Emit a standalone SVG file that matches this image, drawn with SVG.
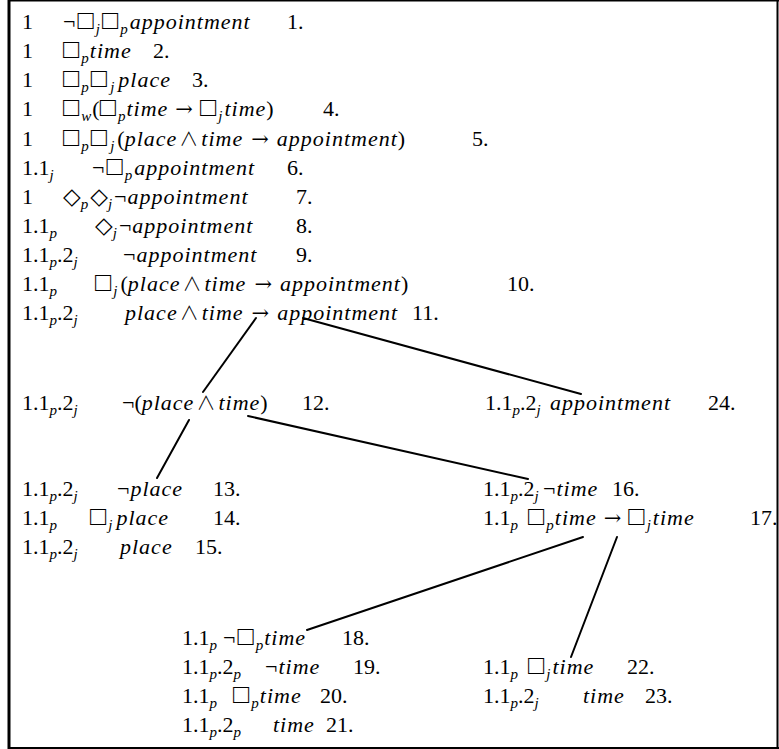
<svg xmlns="http://www.w3.org/2000/svg" width="779" height="749" viewBox="0 0 779 749">
  <style>
    .t { font-family: "Liberation Serif", "DejaVu Serif", serif; font-size: 22px; fill: #000; }
    .i { font-style: italic; letter-spacing: 1px; }
    .s { font-size: 15px; font-style: italic; letter-spacing: 0; baseline-shift: -5px; }
    .b { font-size: 27px; }
    .d { font-family: "DejaVu Sans", sans-serif; font-size: 23px; }
    .w { font-family: "Noto Sans CJK JP", "DejaVu Sans", sans-serif; font-size: 19px; font-weight: 300; }
    .a { font-family: "DejaVu Serif", serif; font-size: 21px; }
    .frame { stroke: #000; fill: none; }
    .edge { stroke: #000; stroke-width: 2; fill: none; stroke-linecap: round; }
  </style>

  <rect x="0" y="0" width="779" height="749" fill="#fff"/>

  <!-- frame -->
  <g id="frame">
    <line class="frame" x1="9" y1="0" x2="9" y2="749" stroke-width="3"/>
    <line class="frame" x1="8" y1="0.75" x2="779" y2="0.75" stroke-width="1.5"/>
    <line class="frame" x1="777.5" y1="0" x2="777.5" y2="749" stroke-width="2"/>
    <line class="frame" x1="8" y1="748" x2="779" y2="748" stroke-width="2"/>
  </g>

  <!-- tableau branches -->
  <g id="connectors">
    <line class="edge" x1="256" y1="318" x2="203" y2="392"/>
    <line class="edge" x1="303" y1="318" x2="581" y2="394"/>
    <line class="edge" x1="189" y1="420" x2="157" y2="478"/>
    <line class="edge" x1="248" y1="416" x2="528" y2="479"/>
    <line class="edge" x1="583" y1="537" x2="307" y2="630"/>
    <line class="edge" x1="617" y1="537" x2="571" y2="657"/>
  </g>

  <!-- root: lines 1-11 -->
  <g id="root">
    <text class="t" y="29"><tspan x="22">1</tspan><tspan x="63">¬</tspan><tspan class="b" dx="2">□</tspan><tspan class="s" dx="2">j</tspan><tspan class="b" dx="2">□</tspan><tspan class="s" dx="2">p</tspan><tspan class="i" dx="2">appointment</tspan><tspan x="287">1.</tspan></text>
    <text class="t" y="58"><tspan x="22">1</tspan><tspan x="63" class="b">□</tspan><tspan class="s" dx="2">p</tspan><tspan class="i" dx="1">time</tspan><tspan x="153">2.</tspan></text>
    <text class="t" y="87"><tspan x="22">1</tspan><tspan x="63" class="b">□</tspan><tspan class="s" dx="2">p</tspan><tspan class="b" dx="2">□</tspan><tspan class="s" dx="3">j</tspan><tspan class="i" dx="4">place</tspan><tspan x="192">3.</tspan></text>
    <text class="t" y="116"><tspan x="22">1</tspan><tspan x="63" class="b">□</tspan><tspan class="s" dx="2">w</tspan><tspan dx="1">(</tspan><tspan class="b">□</tspan><tspan class="s" dx="2">p</tspan><tspan class="i" dx="1">time</tspan><tspan class="a" dx="7">→</tspan><tspan class="b" dx="7">□</tspan><tspan class="s" dx="2">j</tspan><tspan class="i" dx="2">time</tspan><tspan>)</tspan><tspan x="323">4.</tspan></text>
    <text class="t" y="146"><tspan x="22">1</tspan><tspan x="63" class="b">□</tspan><tspan class="s" dx="2">p</tspan><tspan class="b" dx="2">□</tspan><tspan class="s" dx="3">j</tspan><tspan dx="3">(</tspan><tspan class="i">place</tspan><tspan class="w" dx="2">∧</tspan><tspan class="i" dx="3">time</tspan><tspan class="a" dx="8">→</tspan><tspan class="i" dx="8">appointment</tspan><tspan>)</tspan><tspan x="472">5.</tspan></text>
    <text class="t" y="175"><tspan x="22">1.1</tspan><tspan class="s">j</tspan><tspan x="92">¬</tspan><tspan class="b" dx="2">□</tspan><tspan class="s" dx="2">p</tspan><tspan class="i" dx="2">appointment</tspan><tspan x="287">6.</tspan></text>
    <text class="t" y="204"><tspan x="22">1</tspan><tspan x="63" class="d">◇</tspan><tspan class="s">p</tspan><tspan class="d" dx="2">◇</tspan><tspan class="s">j</tspan><tspan dx="2">¬</tspan><tspan class="i" dx="1">appointment</tspan><tspan x="296">7.</tspan></text>
    <text class="t" y="233"><tspan x="22">1.1</tspan><tspan class="s">p</tspan><tspan x="95" class="d">◇</tspan><tspan class="s">j</tspan><tspan dx="2">¬</tspan><tspan class="i" dx="1">appointment</tspan><tspan x="296">8.</tspan></text>
    <text class="t" y="262"><tspan x="22">1.1</tspan><tspan class="s">p</tspan><tspan>.2</tspan><tspan class="s">j</tspan><tspan x="123">¬</tspan><tspan class="i" dx="1">appointment</tspan><tspan x="296">9.</tspan></text>
    <text class="t" y="291"><tspan x="22">1.1</tspan><tspan class="s">p</tspan><tspan x="95" class="b">□</tspan><tspan class="s" dx="2">j</tspan><tspan dx="3">(</tspan><tspan class="i">place</tspan><tspan class="w" dx="2">∧</tspan><tspan class="i" dx="3">time</tspan><tspan class="a" dx="8">→</tspan><tspan class="i" dx="8">appointment</tspan><tspan>)</tspan><tspan x="507">10.</tspan></text>
    <text class="t" y="320"><tspan x="22">1.1</tspan><tspan class="s">p</tspan><tspan>.2</tspan><tspan class="s">j</tspan><tspan x="125" class="i">place</tspan><tspan class="w" dx="2">∧</tspan><tspan class="i" dx="3">time</tspan><tspan class="a" dx="8">→</tspan><tspan class="i" dx="8">appointment</tspan><tspan x="412">11.</tspan></text>
  </g>

  <!-- left branch: line 12 -->
  <g id="node-12">
    <text class="t" y="410"><tspan x="22">1.1</tspan><tspan class="s">p</tspan><tspan>.2</tspan><tspan class="s">j</tspan><tspan x="122">¬(</tspan><tspan class="i">place</tspan><tspan class="w" dx="2">∧</tspan><tspan class="i" dx="3">time</tspan><tspan>)</tspan><tspan x="302">12.</tspan></text>
  </g>

  <!-- right branch: line 24 -->
  <g id="node-24">
    <text class="t" y="410"><tspan x="485">1.1</tspan><tspan class="s">p</tspan><tspan>.2</tspan><tspan class="s">j</tspan><tspan x="550" class="i">appointment</tspan><tspan x="708">24.</tspan></text>
  </g>

  <!-- lines 13-15 -->
  <g id="node-13">
    <text class="t" y="496"><tspan x="22">1.1</tspan><tspan class="s">p</tspan><tspan>.2</tspan><tspan class="s">j</tspan><tspan x="117">¬</tspan><tspan class="i" dx="1">place</tspan><tspan x="213">13.</tspan></text>
    <text class="t" y="525"><tspan x="22">1.1</tspan><tspan class="s">p</tspan><tspan x="90" class="b">□</tspan><tspan class="s" dx="2">j</tspan><tspan class="i" dx="4">place</tspan><tspan x="213">14.</tspan></text>
    <text class="t" y="554"><tspan x="22">1.1</tspan><tspan class="s">p</tspan><tspan>.2</tspan><tspan class="s">j</tspan><tspan x="120" class="i">place</tspan><tspan x="195">15.</tspan></text>
  </g>

  <!-- lines 16-17 -->
  <g id="node-16">
    <text class="t" y="496"><tspan x="483">1.1</tspan><tspan class="s">p</tspan><tspan>.2</tspan><tspan class="s">j</tspan><tspan x="543">¬</tspan><tspan class="i" dx="1">time</tspan><tspan x="612">16.</tspan></text>
    <text class="t" y="525"><tspan x="483">1.1</tspan><tspan class="s">p</tspan><tspan x="528" class="b">□</tspan><tspan class="s" dx="2">p</tspan><tspan class="i" dx="1">time</tspan><tspan class="a" dx="7">→</tspan><tspan class="b" dx="7">□</tspan><tspan class="s" dx="2">j</tspan><tspan class="i" dx="2">time</tspan><tspan x="750">17.</tspan></text>
  </g>

  <!-- lines 18-21 -->
  <g id="node-18">
    <text class="t" y="645"><tspan x="182">1.1</tspan><tspan class="s">p</tspan><tspan x="223">¬</tspan><tspan class="b" dx="2">□</tspan><tspan class="s" dx="2">p</tspan><tspan class="i" dx="1">time</tspan><tspan x="342">18.</tspan></text>
    <text class="t" y="674"><tspan x="182">1.1</tspan><tspan class="s">p</tspan><tspan>.2</tspan><tspan class="s">p</tspan><tspan x="265">¬</tspan><tspan class="i" dx="1">time</tspan><tspan x="353">19.</tspan></text>
    <text class="t" y="703"><tspan x="182">1.1</tspan><tspan class="s">p</tspan><tspan x="233" class="b">□</tspan><tspan class="s" dx="2">p</tspan><tspan class="i" dx="1">time</tspan><tspan x="320">20.</tspan></text>
    <text class="t" y="732"><tspan x="182">1.1</tspan><tspan class="s">p</tspan><tspan>.2</tspan><tspan class="s">p</tspan><tspan x="273" class="i">time</tspan><tspan x="326">21.</tspan></text>
  </g>

  <!-- lines 22-23 -->
  <g id="node-22">
    <text class="t" y="674"><tspan x="483">1.1</tspan><tspan class="s">p</tspan><tspan x="528" class="b">□</tspan><tspan class="s" dx="2">j</tspan><tspan class="i" dx="2">time</tspan><tspan x="627">22.</tspan></text>
    <text class="t" y="703"><tspan x="483">1.1</tspan><tspan class="s">p</tspan><tspan>.2</tspan><tspan class="s">j</tspan><tspan x="583" class="i">time</tspan><tspan x="645">23.</tspan></text>
  </g>
</svg>
